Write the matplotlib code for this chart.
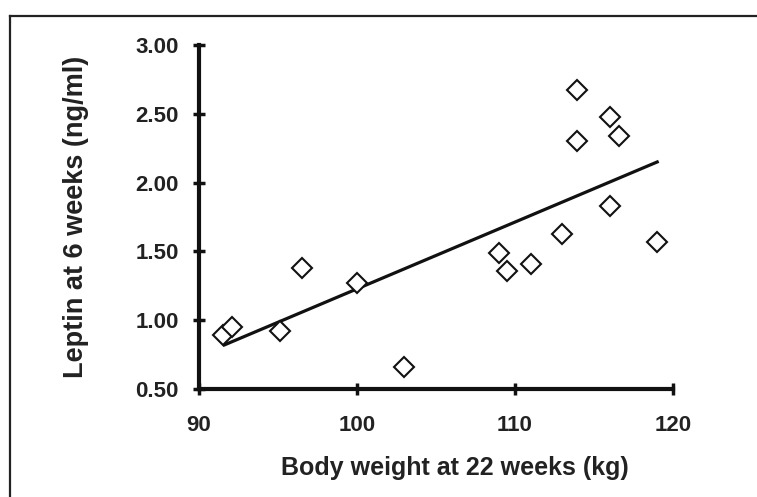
import matplotlib
matplotlib.use('Agg')
import matplotlib.pyplot as plt
from matplotlib.lines import Line2D

# Data
body_weight = [91.5, 92.1, 95.1, 96.5, 100.0, 103.0, 109.0, 109.5, 111.0,
               113.0, 113.9, 113.9, 116.0, 116.6, 116.0, 119.0]
leptin = [0.89, 0.95, 0.92, 1.38, 1.27, 0.66, 1.49, 1.36, 1.41,
          1.63, 2.67, 2.30, 2.48, 2.34, 1.83, 1.57]

# regression line end points
fit_x = [91.6, 119.0]
fit_y = [0.82, 2.15]

x_ticks = [90, 100, 110, 120]
y_ticks = [0.5, 1.0, 1.5, 2.0, 2.5, 3.0]

TXT = '#222222'
plt.rcParams['font.family'] = ['Liberation Sans', 'DejaVu Sans']
plt.rcParams['font.weight'] = 'bold'

fig = plt.figure(figsize=(7.57, 4.97), dpi=100)
ax = fig.add_axes([199 / 757, 1 - 389 / 497, (673 - 199) / 757, (389 - 45) / 497])

ax.plot(body_weight, leptin, linestyle='none', marker='D', markersize=10.5,
        markerfacecolor='white', markeredgecolor='#111111', markeredgewidth=1.5, zorder=3)
ax.plot(fit_x, fit_y, color='#111111', linewidth=2.3, zorder=2)

ax.set_xlim(90, 120)
ax.set_ylim(0.5, 3.0)
ax.set_xticks(x_ticks)
ax.set_yticks(y_ticks)
ax.set_xticklabels([str(v) for v in x_ticks])
ax.set_yticklabels([f'{v:.2f}' for v in y_ticks])

for s in ['top', 'right']:
    ax.spines[s].set_visible(False)
for s in ['left', 'bottom']:
    ax.spines[s].set_linewidth(3)
    ax.spines[s].set_color('#111111')

ax.tick_params(axis='both', direction='inout', length=9, width=2.5, color='#111111',
               labelsize=16, labelcolor=TXT)
ax.tick_params(axis='y', pad=10)
ax.tick_params(axis='x', pad=14)

ax.set_xlabel('Body weight at 22 weeks (kg)', fontsize=18, fontweight='bold', color=TXT)
ax.xaxis.set_label_coords(455 / 757, 1 - 468 / 497, transform=fig.transFigure)
ax.xaxis.label.set_verticalalignment('center')
ax.set_ylabel('Leptin at 6 weeks (ng/ml)', fontsize=19.5, fontweight='bold', color=TXT)
ax.yaxis.set_label_coords(76 / 757, 1 - 217 / 497, transform=fig.transFigure)
ax.yaxis.label.set_verticalalignment('center')

# outer frame (only left and top edges are visible in the crop)
fig.add_artist(Line2D([9.5 / 757, 9.5 / 757], [0, 1 - 16 / 497], color='#222222', linewidth=1.6))
fig.add_artist(Line2D([9.5 / 757, 1], [1 - 16 / 497, 1 - 16 / 497], color='#222222', linewidth=1.6))

fig.savefig('out.png', dpi=100)
